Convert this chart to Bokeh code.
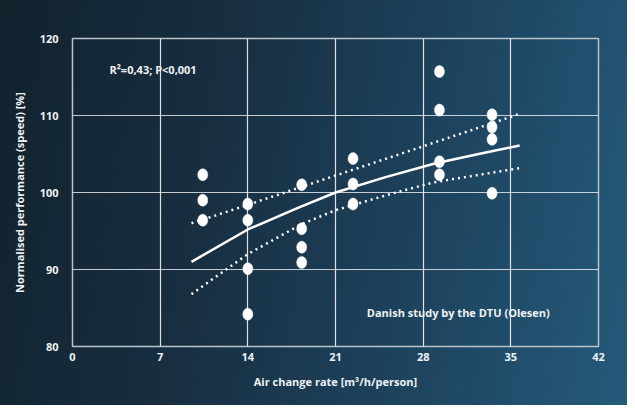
from bokeh.plotting import figure
from bokeh.models import FixedTicker, Range1d, ColumnDataSource
from bokeh.core.properties import value
from bokeh.embed import file_html
from bokeh.resources import INLINE

# ---- data ----
air_rate = [10.4, 10.4, 10.4, 14, 14, 14, 14, 18.3, 18.3, 18.3, 18.3,
            22.4, 22.4, 22.4, 29.3, 29.3, 29.3, 29.3, 33.5, 33.5, 33.5, 33.5]
performance = [102.3, 99.0, 96.4, 98.5, 96.4, 90.1, 84.2, 101.0, 95.3, 92.9, 90.9,
               104.4, 101.1, 98.5, 115.7, 110.7, 104.0, 102.3, 110.1, 108.5, 106.9, 99.9]

fit_x = [9.5, 14, 18, 21, 25, 29, 33, 35.7]
fit_y = [91.0, 95.2, 98.0, 100.0, 102.0, 103.8, 105.2, 106.1]
upper_x = [9.5, 14, 21, 28, 35.7]
upper_y = [96.0, 98.4, 102.2, 106.0, 110.2]
lower_x = [9.5, 14, 18.3, 21, 25.6, 28.8, 35.8]
lower_y = [86.8, 92.0, 95.9, 97.7, 99.9, 101.3, 103.2]

x_ticks = [0, 7, 14, 21, 28, 35, 42]
y_ticks = [80, 90, 100, 110, 120]

stats_label = "R²=0,43; P<0,001"
source_label = "Danish study by the DTU (Olesen)"
x_title = "Air change rate [m³/h/person]"
y_title = "Normalised performance (speed) [%]"

FONT = "Open Sans"
TXT = "#eef2f5"

p = figure(width=627, height=405, output_backend="svg", toolbar_location=None,
           x_range=Range1d(0, 42), y_range=Range1d(80, 120),
           min_border_left=72, min_border_right=29, min_border_top=38, min_border_bottom=59,
           styles={"background": "linear-gradient(100deg, #11222d 0%, #182f42 35%, #1e4560 70%, #245a7a 100%)"})
p.border_fill_color = None
p.background_fill_color = None
p.outline_line_color = "#b9c3ca"
p.outline_line_width = 1.5

p.xaxis.ticker = FixedTicker(ticks=x_ticks)
p.yaxis.ticker = FixedTicker(ticks=y_ticks)
for ax in (p.xaxis, p.yaxis):
    ax.axis_line_color = None
    ax.major_tick_line_color = None
    ax.minor_tick_line_color = None
    ax.major_tick_out = 0
    ax.major_tick_in = 0
    ax.major_label_text_color = TXT
    ax.major_label_text_font = FONT
    ax.major_label_text_font_style = "bold"
    ax.major_label_text_font_size = "11px"
    ax.axis_label_text_color = TXT
    ax.axis_label_text_font = FONT
    ax.axis_label_text_font_style = "bold"
    ax.axis_label_text_font_size = "11px"
p.xaxis.axis_label = x_title
p.yaxis.axis_label = y_title
p.xaxis.major_label_standoff = 6
p.yaxis.major_label_standoff = 14
p.xaxis.axis_label_standoff = 10
p.yaxis.axis_label_standoff = 10

p.xgrid.grid_line_color = "white"
p.xgrid.grid_line_alpha = 0.85
p.ygrid.grid_line_color = "white"
p.ygrid.grid_line_alpha = 0.75
p.xgrid.grid_line_width = 1.2
p.ygrid.grid_line_width = 1.2

# regression and confidence lines
p.line(fit_x, fit_y, line_color="white", line_width=2.5)
p.line(upper_x, upper_y, line_color="white", line_width=2.5, line_dash="2 4")
p.line(lower_x, lower_y, line_color="white", line_width=2.5, line_dash="2 4")

# data points
src = ColumnDataSource(dict(x=air_rate, y=performance))
p.ellipse(x="x", y="y", width=10, height=12, width_units="screen", height_units="screen",
          source=src, fill_color="white", line_color="white", line_width=0.5)

# annotations
p.text(x=[2.95], y=[116.0], text=[stats_label], text_color=TXT, text_font=value(FONT),
       text_font_style="bold", text_font_size="11px", text_baseline="middle", text_align="left")
p.text(x=[23.5], y=[84.4], text=[source_label], text_color=TXT, text_font=value(FONT),
       text_font_style="bold", text_font_size="11px", text_baseline="middle", text_align="left")

open("out.html", "w").write(file_html(p, INLINE))
